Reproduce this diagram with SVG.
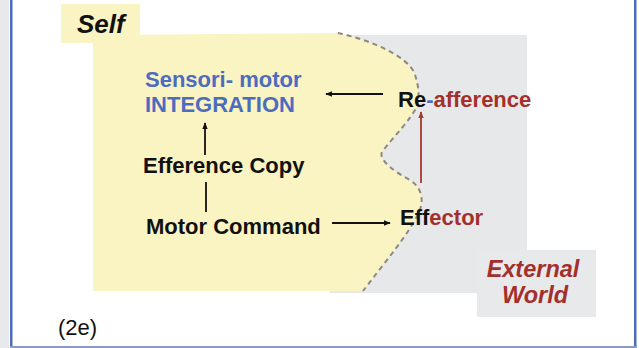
<svg xmlns="http://www.w3.org/2000/svg" width="639" height="348" viewBox="0 0 639 348">
<defs>
<style>
.t{font-family:"Liberation Sans",Arial,sans-serif;font-weight:bold;font-size:22px}
.blk{fill:#111}
.blu{fill:#4c6cc0}
.red{fill:#a3302b}
.ln{stroke:#111;stroke-width:1.8;fill:none}
</style>
<marker id="ah" viewBox="0 0 10 10" refX="9" refY="5" markerWidth="7" markerHeight="7" orient="auto" markerUnits="userSpaceOnUse">
<path d="M0,1 L10,5 L0,9 Z" fill="#111"/>
</marker>
<marker id="ahr" viewBox="0 0 10 10" refX="9" refY="5" markerWidth="7" markerHeight="7" orient="auto" markerUnits="userSpaceOnUse">
<path d="M0,1 L10,5 L0,9 Z" fill="#a3392f"/>
</marker>
</defs>
<rect width="639" height="348" fill="#ffffff"/>
<rect x="0" y="0" width="9" height="348" fill="#e8e9ec"/>
<rect x="10" y="0" width="2.5" height="348" fill="#4f6cb8"/>
<rect x="634" y="0" width="2.5" height="348" fill="#4f6cb8"/>
<rect x="10" y="346" width="627" height="2" fill="#8a9cc6"/>

<g id="external-world">
<rect x="330" y="35" width="197" height="258" fill="#e7e8ea"/>
<rect x="477" y="250" width="119" height="67" fill="#e8e9eb"/>
<text class="t red" font-style="italic" x="533" y="277" text-anchor="middle" style="font-size:23.5px">External</text>
<text class="t red" font-style="italic" x="535" y="303" text-anchor="middle" style="font-size:23.5px">World</text>
</g>

<g id="self">
<rect x="61" y="4" width="79" height="39" fill="#faf3c2"/>
<path d="M93,35 L338,33 C370,40 405,55 414,72 C420,88 419,100 417,106 C412,118 395,135 382,152 C378,160 395,172 410,180 C425,190 423,205 418,214 C408,235 385,262 363,291 L93,291 Z" fill="#faf3c2"/>
<path d="M338,33 C370,40 405,55 414,72 C420,88 419,100 417,106 C412,118 395,135 382,152 C378,160 395,172 410,180 C425,190 423,205 418,214 C408,235 385,262 363,291" fill="none" stroke="#8e8883" stroke-width="2" stroke-dasharray="5,4"/>
<text class="t blk" font-style="italic" x="77" y="33" style="font-size:26px">Self</text>
</g>

<g id="integration">
<text class="t blu" x="145" y="87">Sensori- motor</text>
<text class="t blu" x="145" y="112">INTEGRATION</text>
</g>
<g id="efference-copy">
<text class="t blk" x="143" y="173">Efference Copy</text>
</g>
<g id="motor-command">
<text class="t blk" x="146" y="234">Motor Command</text>
</g>
<g id="effector">
<text class="t" x="400" y="225"><tspan class="blk">Eff</tspan><tspan class="red">ector</tspan></text>
</g>
<g id="re-afference">
<text class="t" x="398" y="107"><tspan class="blk">Re</tspan><tspan class="blu">-</tspan><tspan class="red">afference</tspan></text>
</g>

<g id="connectors">
<line class="ln" x1="205" y1="155" x2="205" y2="123" marker-end="url(#ah)"/>
<line class="ln" x1="206" y1="182" x2="206" y2="212"/>
<line class="ln" x1="332" y1="223" x2="390" y2="223" marker-end="url(#ah)"/>
<line class="ln" x1="383" y1="94" x2="326" y2="94" marker-end="url(#ah)"/>
<line x1="421" y1="183" x2="421" y2="112" stroke="#a3392f" stroke-width="1.8" marker-end="url(#ahr)"/>
</g>

<text x="58" y="335" font-family="'Liberation Sans',Arial,sans-serif" font-size="22" fill="#111">(2e)</text>
</svg>
